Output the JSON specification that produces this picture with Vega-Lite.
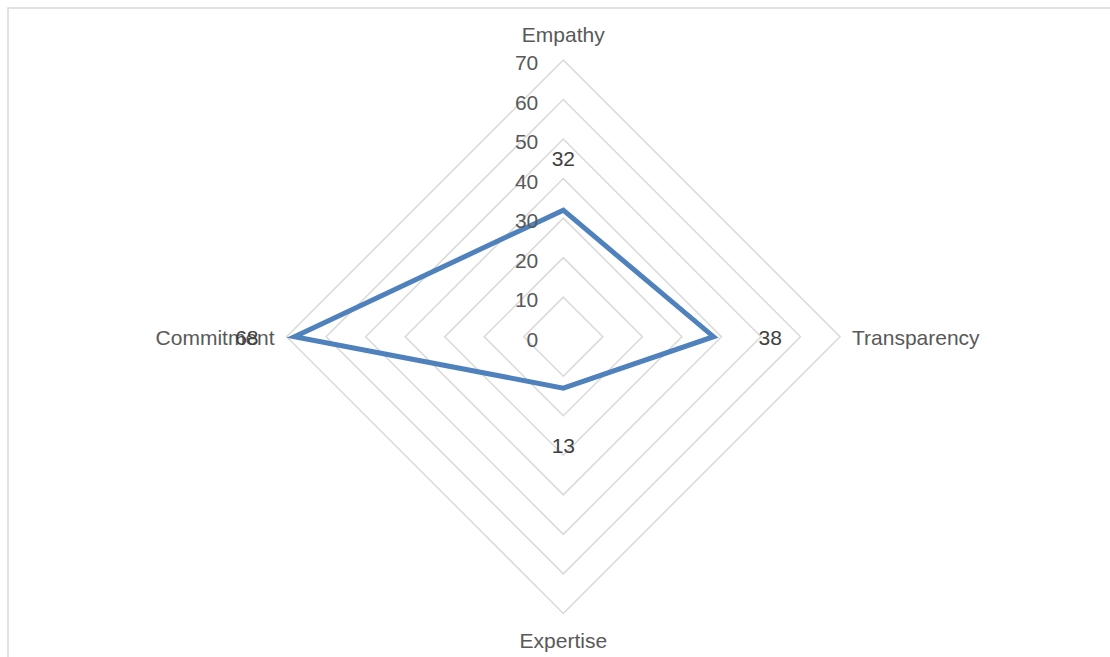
{
  "$schema": "https://vega.github.io/schema/vega-lite/v6.json",
  "width": 1104,
  "height": 651,
  "padding": {"left": 8, "top": 8, "right": 0, "bottom": 0},
  "autosize": {"type": "none"},
  "background": "white",
  "config": {
    "view": {"stroke": "#d9d9d9", "strokeWidth": 1.5},
    "text": {"font": "Liberation Sans", "fontSize": 21}
  },
  "datasets": {
    "scores": [
      {"axis": "Empathy", "value": 32},
      {"axis": "Transparency", "value": 38},
      {"axis": "Expertise", "value": 13},
      {"axis": "Commitment", "value": 68}
    ],
    "grid": [
      {"level": 0, "axis": "Empathy"}, {"level": 0, "axis": "Transparency"}, {"level": 0, "axis": "Expertise"}, {"level": 0, "axis": "Commitment"},
      {"level": 10, "axis": "Empathy"}, {"level": 10, "axis": "Transparency"}, {"level": 10, "axis": "Expertise"}, {"level": 10, "axis": "Commitment"},
      {"level": 20, "axis": "Empathy"}, {"level": 20, "axis": "Transparency"}, {"level": 20, "axis": "Expertise"}, {"level": 20, "axis": "Commitment"},
      {"level": 30, "axis": "Empathy"}, {"level": 30, "axis": "Transparency"}, {"level": 30, "axis": "Expertise"}, {"level": 30, "axis": "Commitment"},
      {"level": 40, "axis": "Empathy"}, {"level": 40, "axis": "Transparency"}, {"level": 40, "axis": "Expertise"}, {"level": 40, "axis": "Commitment"},
      {"level": 50, "axis": "Empathy"}, {"level": 50, "axis": "Transparency"}, {"level": 50, "axis": "Expertise"}, {"level": 50, "axis": "Commitment"},
      {"level": 60, "axis": "Empathy"}, {"level": 60, "axis": "Transparency"}, {"level": 60, "axis": "Expertise"}, {"level": 60, "axis": "Commitment"},
      {"level": 70, "axis": "Empathy"}, {"level": 70, "axis": "Transparency"}, {"level": 70, "axis": "Expertise"}, {"level": 70, "axis": "Commitment"}
    ]
  },
  "encoding": {
    "x": {"field": "px", "type": "quantitative", "scale": {"domain": [-140.48, 138.81], "nice": false, "zero": false}, "axis": null},
    "y": {"field": "py", "type": "quantitative", "scale": {"domain": [-81.53, 83.15], "nice": false, "zero": false}, "axis": null}
  },
  "layer": [
    {
      "data": {"name": "grid"},
      "transform": [
        {"filter": "datum.level > 0"},
        {"calculate": "indexof(['Empathy','Transparency','Expertise','Commitment'], datum.axis)", "as": "ord"},
        {"calculate": "datum.axis === 'Transparency' ? datum.level : datum.axis === 'Commitment' ? -datum.level : 0", "as": "px"},
        {"calculate": "datum.axis === 'Empathy' ? datum.level : datum.axis === 'Expertise' ? -datum.level : 0", "as": "py"}
      ],
      "mark": {"type": "line", "interpolate": "linear-closed", "stroke": "#d9d9d9", "strokeWidth": 1.5},
      "encoding": {
        "detail": {"field": "level", "type": "nominal"},
        "order": {"field": "ord", "type": "quantitative"}
      }
    },
    {
      "data": {"name": "scores"},
      "transform": [
        {"calculate": "indexof(['Empathy','Transparency','Expertise','Commitment'], datum.axis)", "as": "ord"},
        {"calculate": "datum.axis === 'Transparency' ? datum.value : datum.axis === 'Commitment' ? -datum.value : 0", "as": "px"},
        {"calculate": "datum.axis === 'Empathy' ? datum.value : datum.axis === 'Expertise' ? -datum.value : 0", "as": "py"}
      ],
      "mark": {"type": "line", "interpolate": "linear-closed", "stroke": "#4F81BD", "strokeWidth": 5, "strokeJoin": "miter"},
      "encoding": {
        "order": {"field": "ord", "type": "quantitative"}
      }
    },
    {
      "data": {"name": "grid"},
      "transform": [
        {"filter": "datum.axis === 'Empathy'"},
        {"calculate": "0", "as": "px"},
        {"calculate": "datum.level", "as": "py"}
      ],
      "mark": {"type": "text", "align": "right", "baseline": "alphabetic", "dx": -25, "dy": 10, "color": "#595959"},
      "encoding": {"text": {"field": "level", "type": "quantitative"}}
    },
    {
      "data": {"name": "grid"},
      "transform": [
        {"filter": "datum.level === 70 && datum.axis === 'Empathy'"},
        {"calculate": "0", "as": "px"},
        {"calculate": "datum.level", "as": "py"}
      ],
      "mark": {"type": "text", "align": "center", "baseline": "alphabetic", "dy": -18, "color": "#595959"},
      "encoding": {"text": {"field": "axis", "type": "nominal"}}
    },
    {
      "data": {"name": "grid"},
      "transform": [
        {"filter": "datum.level === 70 && datum.axis === 'Transparency'"},
        {"calculate": "datum.level", "as": "px"},
        {"calculate": "0", "as": "py"}
      ],
      "mark": {"type": "text", "align": "left", "baseline": "alphabetic", "dx": 12, "dy": 8, "color": "#595959"},
      "encoding": {"text": {"field": "axis", "type": "nominal"}}
    },
    {
      "data": {"name": "grid"},
      "transform": [
        {"filter": "datum.level === 70 && datum.axis === 'Expertise'"},
        {"calculate": "0", "as": "px"},
        {"calculate": "-datum.level", "as": "py"}
      ],
      "mark": {"type": "text", "align": "center", "baseline": "alphabetic", "dy": 35, "color": "#595959"},
      "encoding": {"text": {"field": "axis", "type": "nominal"}}
    },
    {
      "data": {"name": "grid"},
      "transform": [
        {"filter": "datum.level === 70 && datum.axis === 'Commitment'"},
        {"calculate": "-datum.level", "as": "px"},
        {"calculate": "0", "as": "py"}
      ],
      "mark": {"type": "text", "align": "right", "baseline": "alphabetic", "dx": -12, "dy": 8, "color": "#595959"},
      "encoding": {"text": {"field": "axis", "type": "nominal"}}
    },
    {
      "data": {"name": "scores"},
      "transform": [
        {"filter": "datum.axis === 'Empathy'"},
        {"calculate": "0", "as": "px"},
        {"calculate": "datum.value", "as": "py"}
      ],
      "mark": {"type": "text", "align": "center", "baseline": "alphabetic", "dy": -44, "color": "#404040"},
      "encoding": {"text": {"field": "value", "type": "quantitative"}}
    },
    {
      "data": {"name": "scores"},
      "transform": [
        {"filter": "datum.axis === 'Transparency'"},
        {"calculate": "datum.value", "as": "px"},
        {"calculate": "0", "as": "py"}
      ],
      "mark": {"type": "text", "align": "left", "baseline": "alphabetic", "dx": 45, "dy": 8, "color": "#404040"},
      "encoding": {"text": {"field": "value", "type": "quantitative"}}
    },
    {
      "data": {"name": "scores"},
      "transform": [
        {"filter": "datum.axis === 'Expertise'"},
        {"calculate": "0", "as": "px"},
        {"calculate": "-datum.value", "as": "py"}
      ],
      "mark": {"type": "text", "align": "center", "baseline": "alphabetic", "dy": 65, "color": "#404040"},
      "encoding": {"text": {"field": "value", "type": "quantitative"}}
    },
    {
      "data": {"name": "scores"},
      "transform": [
        {"filter": "datum.axis === 'Commitment'"},
        {"calculate": "-datum.value", "as": "px"},
        {"calculate": "0", "as": "py"}
      ],
      "mark": {"type": "text", "align": "right", "baseline": "alphabetic", "dx": -36, "dy": 8, "color": "#404040"},
      "encoding": {"text": {"field": "value", "type": "quantitative"}}
    }
  ]
}
